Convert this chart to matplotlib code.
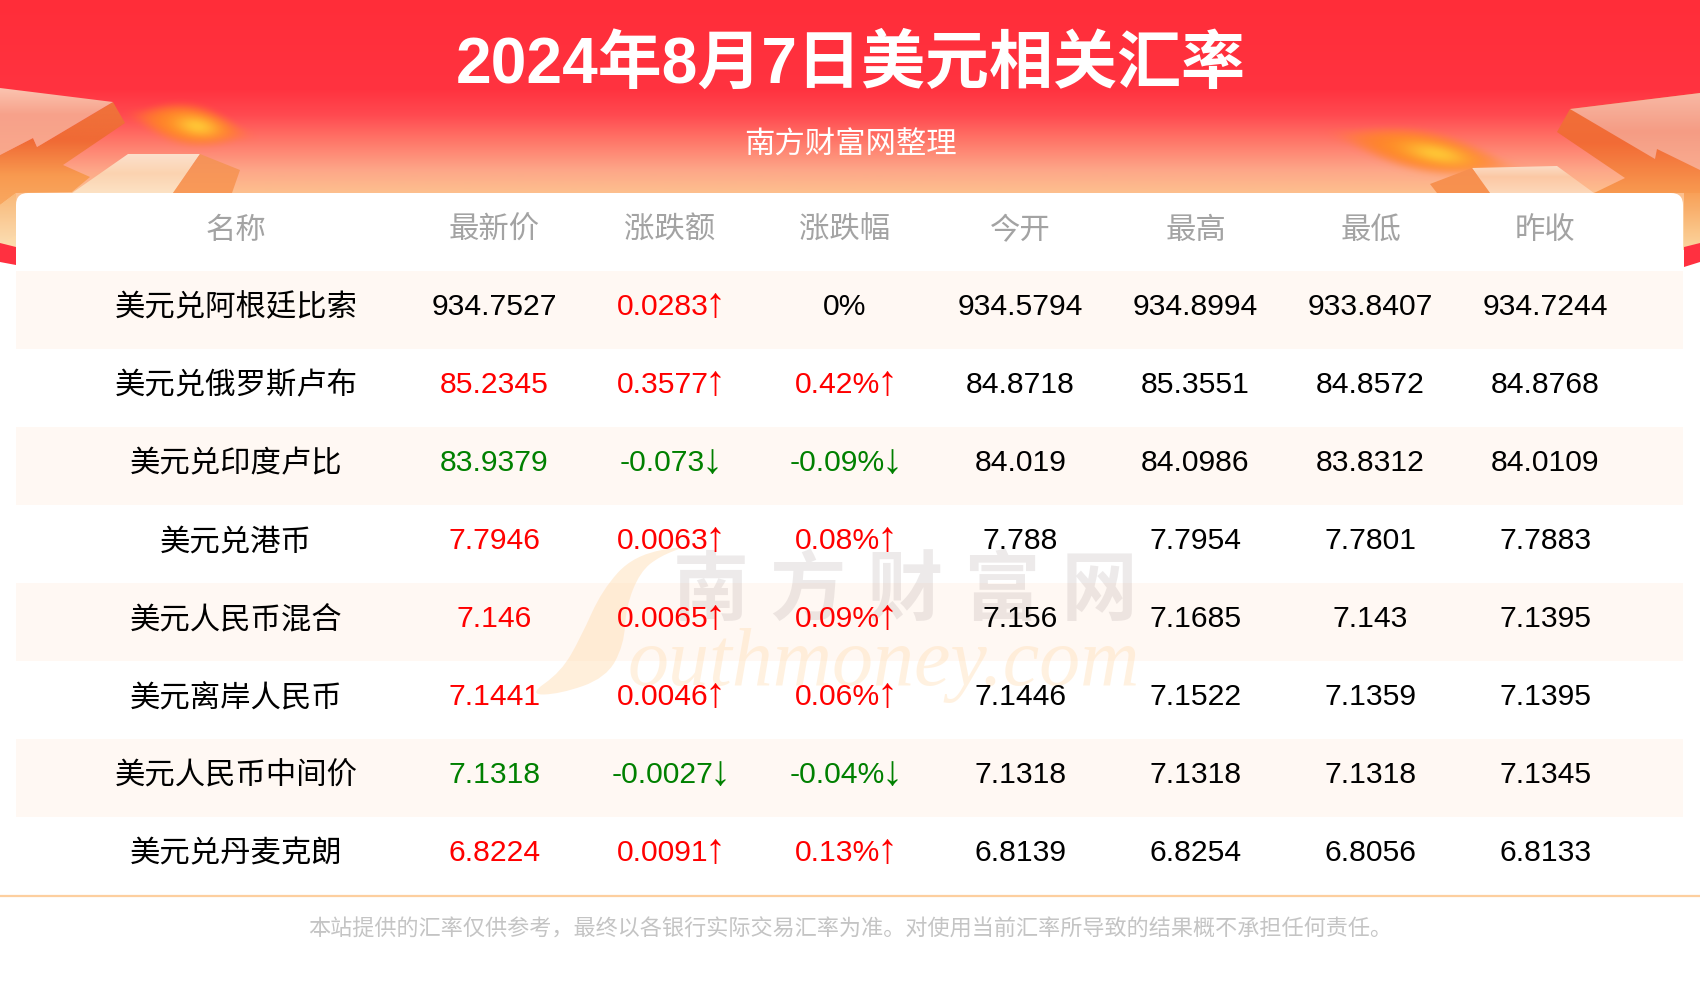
import numpy as np
import matplotlib
matplotlib.use("Agg")
import matplotlib.pyplot as plt
from matplotlib.colors import to_rgb
from matplotlib.font_manager import FontProperties
from matplotlib.patches import FancyBboxPatch, PathPatch, Polygon, Rectangle
from matplotlib.path import Path
from matplotlib.textpath import TextPath

# table data
headers = ["名称", "最新价", "涨跌额", "涨跌幅", "今开", "最高", "最低", "昨收"]
names = ["美元兑阿根廷比索", "美元兑俄罗斯卢布", "美元兑印度卢比", "美元兑港币",
         "美元人民币混合", "美元离岸人民币", "美元人民币中间价", "美元兑丹麦克朗"]
latest = ["934.7527", "85.2345", "83.9379", "7.7946", "7.146", "7.1441", "7.1318", "6.8224"]
change = ["0.0283", "0.3577", "-0.073", "0.0063", "0.0065", "0.0046", "-0.0027", "0.0091"]
change_pct = ["0", "0.42", "-0.09", "0.08", "0.09", "0.06", "-0.04", "0.13"]
open_price = ["934.5794", "84.8718", "84.019", "7.788", "7.156", "7.1446", "7.1318", "6.8139"]
high = ["934.8994", "85.3551", "84.0986", "7.7954", "7.1685", "7.1522", "7.1318", "6.8254"]
low = ["933.8407", "84.8572", "83.8312", "7.7801", "7.143", "7.1359", "7.1318", "6.8056"]
prev_close = ["934.7244", "84.8768", "84.0109", "7.7883", "7.1395", "7.1395", "7.1345", "6.8133"]

title = "2024年8月7日美元相关汇率"
subtitle = "南方财富网整理"
footer = "本站提供的汇率仅供参考，最终以各银行实际交易汇率为准。对使用当前汇率所导致的结果概不承担任何责任。"

FONT = ["Liberation Sans", "Noto Sans CJK SC", "DejaVu Sans"]
RED = "#ff0000"
GREEN = "#008000"
col_x = [236, 494.5, 670, 845, 1020.5, 1195.5, 1370.5, 1545.5]
row_top = 271
row_h = 78


def px(size):
    # font size given in image pixels
    return size * 0.72


def ramp(stops, n=256):
    ys = np.linspace(0, 1, n)
    pos = [s[0] for s in stops]
    rgb = np.array([to_rgb(s[1]) for s in stops])
    return np.stack([np.interp(ys, pos, rgb[:, i]) for i in range(3)], axis=1)[:, None, :]


def grad_poly(pts, stops, z=2):
    # polygon filled with a vertical gradient
    pts = np.array(pts, dtype=float)
    ext = [pts[:, 0].min(), pts[:, 0].max(), pts[:, 1].max(), pts[:, 1].min()]
    im = ax.imshow(ramp(stops), extent=ext, aspect="auto", zorder=z, interpolation="bilinear")
    im.set_clip_path(Polygon(pts, closed=True, transform=ax.transData))


def flame(cx, cy, half_w, half_h, angle, z=2):
    xs = np.arange(cx - half_w * 1.4, cx + half_w * 1.4)
    ys = np.arange(cy - half_w * 0.6, cy + half_w * 0.6)
    xx, yy = np.meshgrid(xs, ys)
    a = np.radians(angle)
    u = (xx - cx) * np.cos(a) + (yy - cy) * np.sin(a)
    v = -(xx - cx) * np.sin(a) + (yy - cy) * np.cos(a)
    d = (u / half_w) ** 2 + (v / (half_h * (1 - 0.35 * np.clip(u / half_w, -1, 1) ** 2))) ** 2
    alpha = np.exp(-d ** 2.2)
    core = np.exp(-((u - half_w * 0.15) / (half_w * 0.45)) ** 2 - (v / (half_h * 0.55)) ** 2)
    c0 = np.array(to_rgb("#ff8426"))
    c1 = np.array(to_rgb("#ffc435"))
    rgba = np.zeros(xx.shape + (4,))
    for i in range(3):
        rgba[..., i] = c0[i] + (c1[i] - c0[i]) * core
    rgba[..., 3] = alpha
    ax.imshow(rgba, extent=[xs[0], xs[-1], ys[-1], ys[0]], aspect="auto", zorder=z)


def smooth_shape(pts):
    # closed quadratic curve through the midpoints of pts
    pts = np.array(pts, dtype=float)
    mids = (pts + np.roll(pts, -1, axis=0)) / 2
    verts = [mids[-1]]
    codes = [Path.MOVETO]
    for p, m in zip(pts, mids):
        verts += [p, m]
        codes += [Path.CURVE3, Path.CURVE3]
    return Path(verts, codes)


fig = plt.figure(figsize=(17, 10), dpi=100, facecolor="white")
ax = fig.add_axes([0, 0, 1, 1])
ax.axis("off")
ax.set_xlim(0, 1700)
ax.set_ylim(1000, 0)
renderer = fig.canvas.get_renderer()

# red header background
ax.imshow(ramp([(0, "#ff2d39"), (0.36, "#ff3340"), (0.46, "#ff4a50"), (0.56, "#ff7568"),
                (0.68, "#fda688"), (0.77, "#fdbf8e"), (1, "#fce0b0")]),
          extent=[0, 1700, 250, 0], aspect="auto", zorder=1, interpolation="bilinear")

# left side decoration
grad_poly([(0, 88), (113, 102), (125, 123), (63, 165), (90, 177), (72, 192), (16, 193), (0, 205),
           (0, 155), (33, 138), (37, 147), (113, 102)],
          [(0, "#f0763f"), (0.45, "#f06a35"), (0.75, "#f89a50"), (1, "#f9a860")])
grad_poly([(0, 88), (113, 102), (37, 147), (33, 138), (0, 155)],
          [(0, "#fbc4b0"), (0.4, "#f7a18a"), (1, "#f9a88c")], z=3)
grad_poly([(0, 205), (16, 193), (16, 235), (0, 243)], [(0, "#f9b878"), (1, "#fbdcb0")], z=3)
grad_poly([(128, 154), (200, 154), (173, 193), (72, 193)],
          [(0, "#fce0cc"), (0.5, "#fbd3b0"), (1, "#fde2c4")], z=3)
grad_poly([(200, 154), (240, 170), (232, 193), (173, 193)],
          [(0, "#f5925a"), (1, "#f99a58")], z=3)
ax.add_patch(Polygon([(0, 243), (16, 247), (16, 265), (0, 262)], color="#ff3040", lw=0, zorder=3))
flame(190, 125, 50, 19, 10)

# right side decoration
grad_poly([(1570, 109), (1700, 93), (1700, 193), (1594, 193), (1625, 178), (1557, 132)],
          [(0, "#f0703a"), (0.5, "#f26b36"), (1, "#f89a50")])
grad_poly([(1570, 109), (1700, 93), (1700, 170), (1657, 149), (1655, 159)],
          [(0, "#f8b8a4"), (0.5, "#f59c84"), (1, "#f9ac90")], z=3)
grad_poly([(1684, 193), (1700, 193), (1700, 243), (1684, 247)], [(0, "#f8a058"), (1, "#fbd49c")], z=3)
grad_poly([(1472, 168), (1557, 166), (1594, 193), (1490, 193)],
          [(0, "#fbdcc6"), (0.4, "#fcc8a4"), (1, "#fdd8ba")], z=3)
grad_poly([(1430, 184), (1472, 168), (1490, 193), (1437, 193)],
          [(0, "#f68f50"), (1, "#f8924f")], z=3)
ax.add_patch(Polygon([(1684, 247), (1700, 243), (1700, 262), (1684, 267)], color="#ff3040", lw=0, zorder=3))
flame(1425, 152, 76, 19, 11)

# white card with rounded top corners
card = FancyBboxPatch((26, 203), 1647, 120, boxstyle="round,pad=10,rounding_size=12",
                      facecolor="white", edgecolor="none", zorder=4)
ax.add_patch(card)

# alternate rows
for i in range(len(names)):
    if i % 2 == 0:
        ax.add_patch(Rectangle((16, row_top + i * row_h), 1667, row_h, facecolor="#fff8f3",
                               edgecolor="none", zorder=5))
ax.plot([0, 1700], [896, 896], color="#fdcf9f", lw=1.6, zorder=5, solid_capstyle="butt")

# watermark
ax.add_patch(PathPatch(smooth_shape([(690, 545), (634, 555), (602, 590), (581, 637), (561, 672),
                                     (528, 695), (560, 694), (606, 678), (624, 645), (626, 607),
                                     (640, 572), (660, 556)]),
                       facecolor="#ffdcb0", edgecolor="none", alpha=0.45, zorder=6))
ax.text(905, 614, "南 方 财 富 网", family=FONT, fontsize=px(76), fontweight="bold", color="#807070",
        alpha=0.14, ha="center", va="baseline", zorder=6)
ax.text(884, 685, "outhmoney.com", family="Liberation Serif", style="italic", fontsize=px(82),
        color="#ffdcb0", alpha=0.38, ha="center", va="baseline", zorder=6)

# title block
ax.text(851, 83, title, family=FONT, fontsize=px(64), fontweight="bold", color="white",
        ha="center", va="baseline", zorder=7)
ax.text(850, 154, subtitle, family=FONT, fontsize=px(30.4), color="white",
        ha="center", va="baseline", zorder=7)

# header row
for x, h in zip(col_x, headers):
    ax.text(x, 239, h, family=FONT, fontsize=px(30.4), color="#a3a3a3",
            ha="center", va="baseline", zorder=7)


def sign_style(value):
    v = float(value)
    if v > 0:
        return RED, "↑"
    if v < 0:
        return GREEN, "↓"
    return "black", ""


def arrow_cell(x, y, txt, arrow, color):
    # value plus a tall thin arrow, the arrow has its own size so it reaches below the baseline
    if not arrow:
        ax.text(x, y, txt, family=FONT, fontsize=px(30.1), color=color, ha="center", va="baseline", zorder=7)
        return
    t = ax.text(0, y, txt, family=FONT, fontsize=px(30.1), color=color, ha="left", va="baseline", zorder=7)
    w = t.get_window_extent(renderer).width
    left = x - (w + 15) / 2
    t.set_x(left)
    ext = TextPath((0, 0), arrow, size=1, prop=FontProperties(family="Liberation Sans")).get_extents()
    size = 25 / ext.height
    base = y + 3 + ext.y0 * size
    ax.text(left + w + 7, base, arrow, family=FONT, fontsize=px(size), color=color,
            ha="center", va="baseline", zorder=7)


# table rows
for i, name in enumerate(names):
    y = row_top + i * row_h + 44
    pct_color, pct_arrow = sign_style(change_pct[i])
    chg_color, chg_arrow = sign_style(change[i])
    ax.text(col_x[0], y + 1, name, family=FONT, fontsize=px(30.4), color="black",
            ha="center", va="baseline", zorder=7)
    arrow_cell(col_x[1], y, latest[i], "", pct_color)
    arrow_cell(col_x[2], y, change[i], chg_arrow, chg_color)
    arrow_cell(col_x[3], y, change_pct[i] + "%", pct_arrow, pct_color)
    for x, vals in zip(col_x[4:], [open_price, high, low, prev_close]):
        arrow_cell(x, y, vals[i], "", "black")

ax.text(850, 936, footer, family=FONT, fontsize=px(22.1), color="#c4c4c4",
        ha="center", va="baseline", zorder=7)

fig.savefig("out.png", dpi=100, facecolor="white")
